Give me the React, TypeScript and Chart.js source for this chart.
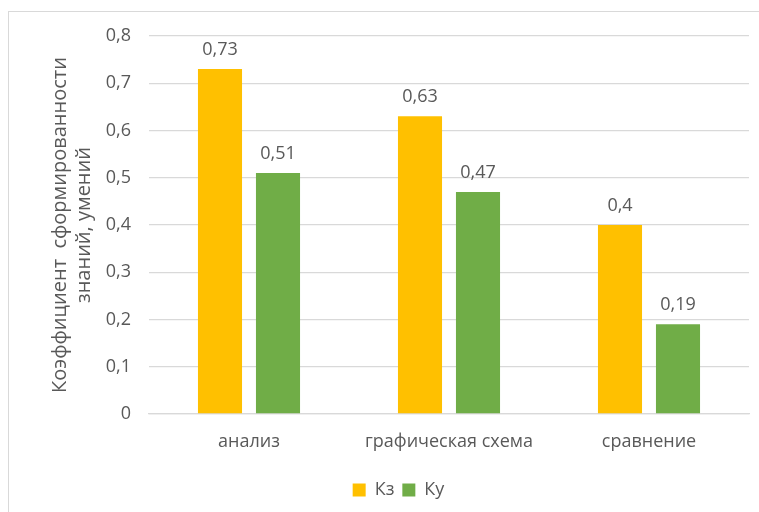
import React, { useEffect, useRef } from "react";
import { Chart, registerables } from "chart.js";

Chart.register(...registerables);

const categories = ["анализ", "графическая схема", "сравнение"];
const seriesNames = ["Кз", "Ку"];
const kzValues = [0.73, 0.63, 0.4];
const kuValues = [0.51, 0.47, 0.19];
const seriesColors = ["#FFC000", "#70AD47"];
const yTitle = ["Коэффициент  сформированности", "знаний, умений"];

const FONT = "'Open Sans', 'Liberation Sans', sans-serif";
const TEXT = "#595959";

const fmt = (v: number) => (v === 0 ? "0" : String(v).replace(".", ","));

const dataLabelPlugin = {
  id: "dataLabels",
  afterDatasetsDraw(chart: any) {
    const ctx = chart.ctx;
    ctx.save();
    ctx.font = `18px ${FONT}`;
    ctx.fillStyle = TEXT;
    ctx.textAlign = "center";
    ctx.textBaseline = "bottom";
    chart.data.datasets.forEach((ds: any, di: number) => {
      const meta = chart.getDatasetMeta(di);
      meta.data.forEach((el: any, i: number) => {
        ctx.fillText(fmt(ds.data[i]), el.x, el.y - 10);
      });
    });
    ctx.restore();
  },
};

export default function App() {
  const ref = useRef<HTMLCanvasElement>(null);
  useEffect(() => {
    document.body.style.margin = "0";
    const chart = new Chart(ref.current!, {
      type: "bar",
      data: {
        labels: categories,
        datasets: [
          { label: seriesNames[0], data: kzValues, backgroundColor: seriesColors[0] },
          { label: seriesNames[1], data: kuValues, backgroundColor: seriesColors[1] },
        ],
      },
      options: {
        animation: false,
        responsive: false,
        maintainAspectRatio: false,
        layout: { padding: { left: 48, right: 10, top: 36, bottom: 3 } },
        datasets: { bar: { categoryPercentage: 0.58, barPercentage: 0.76 } },
        scales: {
          x: {
            grid: { display: false },
            border: { color: "#d9d9d9", width: 1.3 },
            ticks: { color: TEXT, font: { family: FONT, size: 18 }, padding: 9 },
            afterFit: (s: any) => { s.height = 59; },
          },
          y: {
            min: 0,
            max: 0.8,
            ticks: {
              stepSize: 0.1,
              color: TEXT,
              padding: 18,
              font: { family: FONT, size: 18 },
              callback: (v: any) => fmt(Math.round(Number(v) * 10) / 10),
            },
            grid: { color: "#d9d9d9", lineWidth: 1.3, drawTicks: false },
            border: { display: false },
            title: {
              display: true,
              text: yTitle,
              color: TEXT,
              font: { family: FONT, size: 20, lineHeight: 1.2 },
              padding: { top: 0, bottom: 0 },
            },
            afterFit: (s: any) => { s.width = 101; },
          },
        },
        plugins: {
          legend: {
            position: "bottom",
            labels: {
              color: TEXT,
              font: { family: FONT, size: 18 },
              boxWidth: 13,
              boxHeight: 13,
              padding: 8,
            },
          },
          tooltip: { enabled: false },
        },
      },
      plugins: [dataLabelPlugin],
    });
    return () => chart.destroy();
  }, []);
  return (
    <div style={{ position: "relative", width: 759, height: 512 }}>
      <div
        style={{
          position: "absolute",
          left: 8,
          top: 11,
          width: 800,
          height: 600,
          border: "1px solid #d9d9d9",
          boxSizing: "border-box",
        }}
      />
      <canvas ref={ref} width={759} height={512} style={{ position: "absolute", left: 0, top: 0 }} />
    </div>
  );
}
